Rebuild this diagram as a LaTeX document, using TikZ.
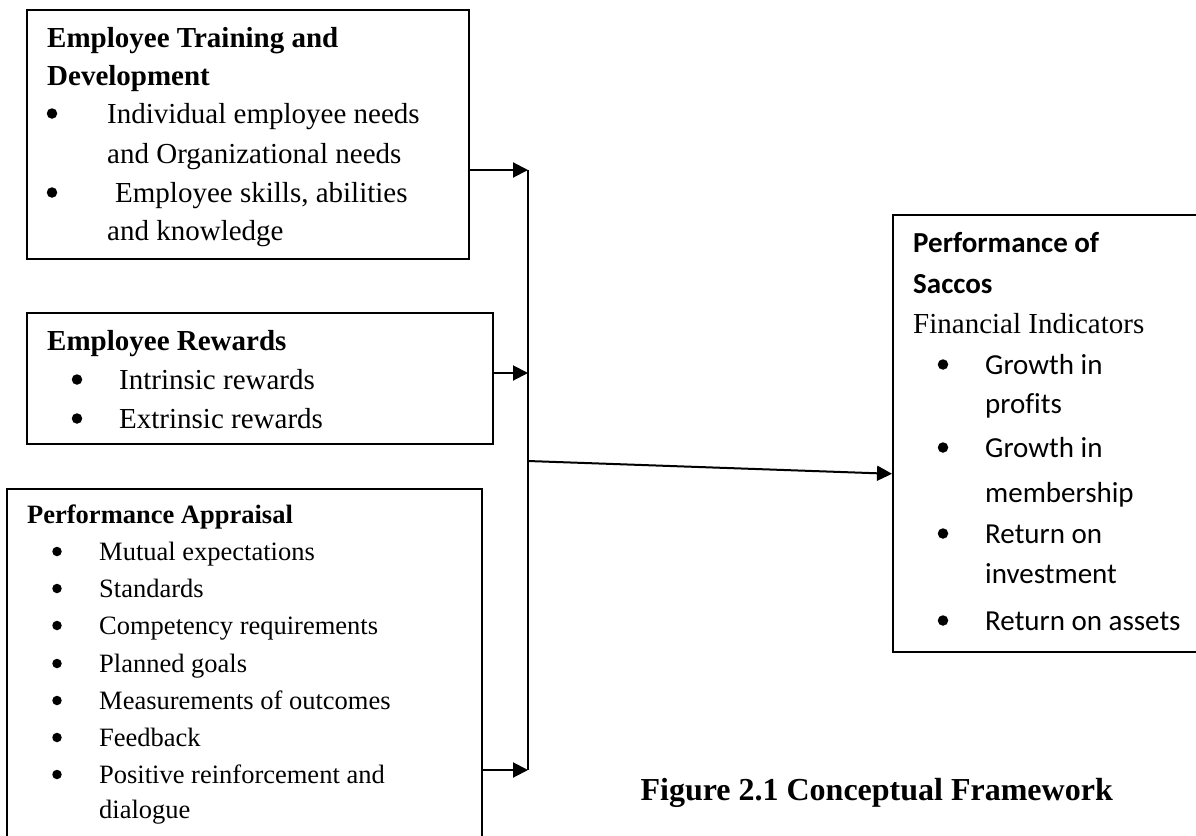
\documentclass[tikz,border=0pt]{standalone}
\usepackage{fontspec}
\setmainfont{Liberation Serif}
\newfontfamily\calibrifont[Ligatures=NoCommon]{Carlito}
\usetikzlibrary{arrows.meta,calc}
\begin{document}
\begin{tikzpicture}[x=1pt,y=-1pt,
  box/.style={draw, line width=1.6pt, inner sep=0pt, anchor=north west},
  arr/.style={line width=2pt, -{Triangle[length=15pt,width=15pt]}},
  wire/.style={line width=2pt},
  ln/.style={anchor=base west, inner sep=0pt},
  dot/.style={circle, fill, inner sep=0pt, minimum size=10.5pt},
  smalldot/.style={circle, fill, inner sep=0pt, minimum size=9.5pt},
  big/.style={font=\fontsize{29}{35}\selectfont},
  midsize/.style={font=\fontsize{26.5}{32}\selectfont},
  cal/.style={font=\calibrifont\fontsize{29}{35}\selectfont},
  captext/.style={font=\bfseries\fontsize{32}{38}\selectfont, anchor=base east, inner sep=0pt}]
\clip (0,0) rectangle (1196,835);
\fill[white] (0,0) rectangle (1196,835);

% boxes
\node[box, minimum width=442pt, minimum height=249pt] (b1) at (26,9) {};
\node[box, minimum width=466pt, minimum height=131pt] (b2) at (26,312) {};
\node[box, minimum width=475pt, minimum height=370pt] (b3) at (6,488) {};
\node[box, minimum width=330pt, minimum height=437pt] (b4) at (892,214) {};

% box 1 text
\node[ln,big] (t1a) at (47,47) {\bfseries Employee Training and};
\node[ln,big] (t1b) at (47,85) {\bfseries Development};
\node[dot] (u1a) at (52,113.5) {};
\node[ln,big] (t1c) at (107,123) {Individual employee needs};
\node[ln,big] (t1d) at (107,163) {and Organizational needs};
\node[dot] (u1b) at (52,192.5) {};
\node[ln,big] (t1e) at (115,202) {Employee skills, abilities};
\node[ln,big] (t1f) at (107,240) {and knowledge};

% box 2 text
\node[ln,big] (t2a) at (47,350) {\bfseries Employee Rewards};
\node[dot] (u2a) at (77,379.5) {};
\node[ln,big] (t2b) at (119,389) {Intrinsic rewards};
\node[dot] (u2b) at (77,418.5) {};
\node[ln,big] (t2c) at (119,428) {Extrinsic rewards};

% box 3 text
\node[ln,midsize] (t3a) at (27,523) {\bfseries Performance Appraisal};
\foreach \y/\t [count=\i] in {560/Mutual expectations, 597/Standards, 634/Competency requirements, 672/Planned goals, 709/Measurements of outcomes, 746/Feedback, 783/Positive reinforcement and}{
  \node[smalldot] (u3\i) at (57,\y-8.5) {};
  \node[ln,midsize] (t3\i) at (99,\y) {\t};
}
\node[ln,midsize] (t3z) at (99,818) {dialogue};

% box 4 text
\node[ln,cal] (t4a) at (913,252) {\bfseries Performance of};
\node[ln,cal] (t4b) at (913,293) {\bfseries Saccos};
\node[ln,big] (t4c) at (913,333) {Financial Indicators};
\foreach \y [count=\i] in {374,457,543,630}{
  \node[dot] (u4\i) at (943,\y-9.5) {};
}
\foreach \y/\t [count=\i] in {374/Growth in, 413/profits, 457/Growth in, 502/membership, 543/Return on, 583/investment, 630/Return on assets}{
  \node[ln,cal] (t4\i) at (985,\y) {\t};
}

% caption
\node[captext] (caption) at (1113,800) {Figure 2.1 Conceptual Framework};

% connectors
\coordinate (j1) at (528,170);
\coordinate (j2) at (528,373);
\coordinate (j3) at (528,770);
\coordinate (jm) at (528,461);
\draw[wire] (j1) -- (j3);
\draw[arr] (b1.east |- j1) -- (j1);
\draw[arr] (b2.east |- j2) -- (j2);
\draw[arr] (b3.east |- j3) -- (j3);
\draw[arr] (jm) -- ([yshift=-40.5pt]b4.west);
\end{tikzpicture}
\end{document}
